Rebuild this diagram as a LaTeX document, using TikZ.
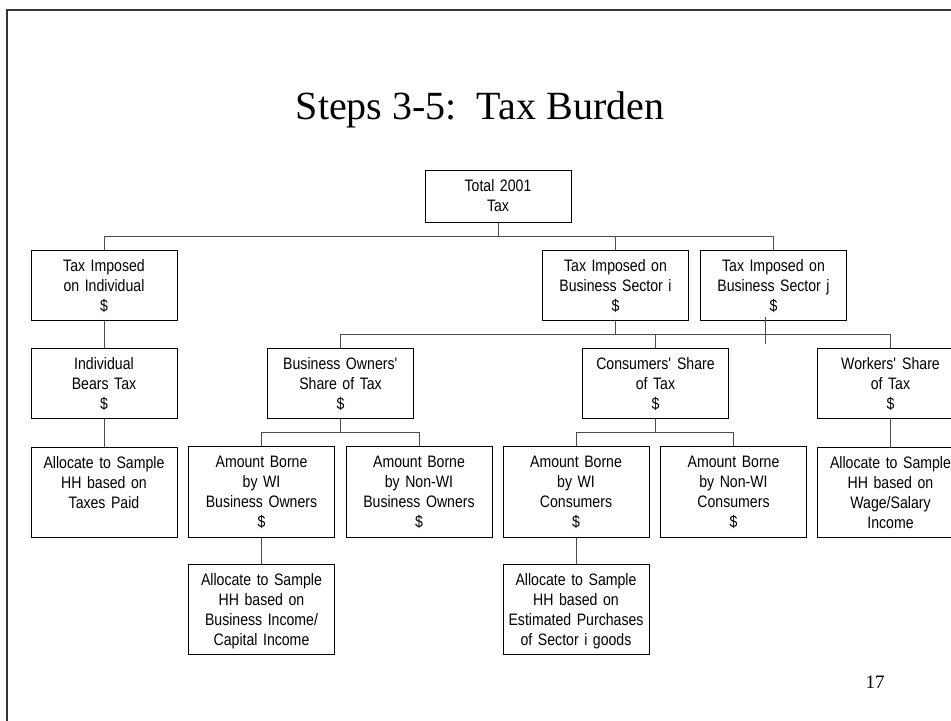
\documentclass[tikz,border=0pt]{standalone}
\usepackage{fontspec}
\setmainfont{Liberation Serif}
\newfontfamily\boxfont[FakeStretch=0.85]{Liberation Sans}
\usetikzlibrary{positioning, calc}

\begin{document}
\begin{tikzpicture}[x=1bp, y=-1bp,
    taxbox/.style={draw=black, line width=0.9bp, anchor=north, align=center,
        text width=142bp, inner xsep=2bp, inner ysep=0pt, text height=21bp,
        font=\boxfont\fontsize{16.6bp}{20bp}\selectfont},
    link/.style={draw=black!70, line width=0.9bp}]
    \useasboundingbox (0,0) rectangle (951,721);
    \clip (0,0) rectangle (951,721);

    % frame
    \draw[line width=1.5bp, black!80] (7,10) rectangle (970,740);

    % title and page number
    \node[font=\fontsize{40bp}{48bp}\selectfont] (title) at (480,110) {Steps 3-5:\ \ Tax Burden};
    \node[font=\fontsize{19bp}{22bp}\selectfont] (pagenum) at (875,682) {17};

    % boxes: name / x / top / depth / text
    \foreach \name/\x/\y/\d/\txt in {
        total/498/170/31/{Total 2001\\Tax},
        indiv/104/250/49/{Tax Imposed\\on Individual\\\$},
        secti/615.5/250/49/{Tax Imposed on\\Business Sector i\\\$},
        sectj/773.5/250/49/{Tax Imposed on\\Business Sector j\\\$},
        bears/104/348/49/{Individual\\Bears Tax\\\$},
        owners/340.5/348/49/{Business Owners\textquotesingle\\Share of Tax\\\$},
        consumers/655.5/348/49/{Consumers\textquotesingle{} Share\\of Tax\\\$},
        workers/890.5/348/49/{Workers\textquotesingle{} Share\\of Tax\\\$},
        paid/104/447/69/{Allocate to Sample\\HH based on\\Taxes Paid},
        wiown/261.5/446/70/{Amount Borne\\by WI\\Business Owners\\\$},
        nonwiown/419/446/70/{Amount Borne\\by Non-WI\\Business Owners\\\$},
        wicons/576/446/70/{Amount Borne\\by WI\\Consumers\\\$},
        nonwicons/733.5/446/70/{Amount Borne\\by Non-WI\\Consumers\\\$},
        wage/890.5/447/69/{Allocate to Sample\\HH based on\\Wage/Salary\\Income},
        bizinc/261.5/564/69/{Allocate to Sample\\HH based on\\Business Income/\\Capital Income},
        purch/576/564/69/{Allocate to Sample\\HH based on\\Estimated Purchases\\of Sector i goods}}{
        \node[taxbox, text depth=\d bp] (\name) at (\x,\y) {\txt};
    }

    % total tax to first row
    \draw[link] (total.south) -- ++(0,14) coordinate (bar1);
    \foreach \n in {indiv, secti, sectj}
        \draw[link] (bar1) -| (\n.north);

    % sector i to the shares
    \draw[link] (secti.south) -- ++(0,14) coordinate (bar2);
    \foreach \n in {owners, consumers, workers}
        \draw[link] (bar2) -| (\n.north);
    \draw[link] ($(sectj.south)+(-8.5,-4)$) -- ++(0,27);

    % owners and consumers split
    \draw[link] (owners.south) -- ++(0,14) coordinate (bar3);
    \foreach \n in {wiown, nonwiown}
        \draw[link] (bar3) -| (\n.north);
    \draw[link] (consumers.south) -- ++(0,14) coordinate (bar4);
    \foreach \n in {wicons, nonwicons}
        \draw[link] (bar4) -| (\n.north);

    % straight links
    \foreach \a/\b in {indiv/bears, bears/paid, workers/wage, wiown/bizinc, wicons/purch}
        \draw[link] (\a.south) -- (\b.north);
\end{tikzpicture}
\end{document}
